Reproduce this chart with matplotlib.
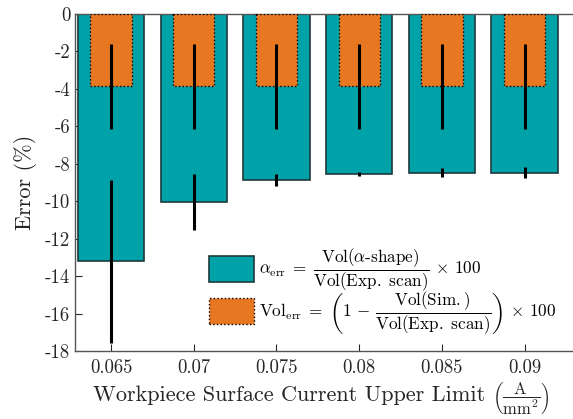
import numpy as np
import matplotlib
matplotlib.use("Agg")
import matplotlib.pyplot as plt

plt.rcParams['font.family'] = 'serif'
plt.rcParams['font.serif'] = ['cmr10']
plt.rcParams['mathtext.fontset'] = 'cm'
plt.rcParams['axes.unicode_minus'] = False

# data
currents = [0.065, 0.07, 0.075, 0.08, 0.085, 0.09]
alpha_err = [-13.2, -10.05, -8.85, -8.55, -8.48, -8.48]
alpha_std = [4.35, 1.5, 0.32, 0.12, 0.25, 0.3]
vol_err = [-3.87, -3.87, -3.87, -3.87, -3.87, -3.87]
vol_std = [2.25, 2.25, 2.25, 2.25, 2.25, 2.25]
xtick_labels = ['0.065', '0.07', '0.075', '0.08', '0.085', '0.09']
yticks = [0, -2, -4, -6, -8, -10, -12, -14, -16, -18]

teal = '#00A2AA'
orange = '#E87722'

fig = plt.figure(figsize=(5.73, 4.19), dpi=100)
ax = fig.add_axes([0.131, 0.162, 0.869, 0.805])

lab1 = (r'$\alpha_{\mathrm{err}}\;=\;\dfrac{\mathrm{Vol}(\alpha\text{-shape})}'
        r'{\mathrm{Vol(Exp.\ scan)}}\,\times\,100$')
lab2 = (r'$\mathrm{Vol}_{\mathrm{err}}\;=\;\left(1\,-\,\dfrac{\mathrm{Vol(Sim.)}}'
        r'{\mathrm{Vol(Exp.\ scan)}}\right)\,\times\,100$')

b1 = ax.bar(currents, alpha_err, width=0.004, color=teal, edgecolor='#1c3a3c',
            linewidth=1.2, label=lab1, zorder=2)
b2 = ax.bar(currents, vol_err, width=0.0025, color=orange, edgecolor='black',
            linewidth=1.0, linestyle=':', label=lab2, zorder=3)
ax.errorbar(currents, alpha_err, yerr=alpha_std, fmt='none', ecolor='black',
            elinewidth=2.2, capsize=0, zorder=4)
ax.errorbar(currents, vol_err, yerr=vol_std, fmt='none', ecolor='black',
            elinewidth=2.2, capsize=0, zorder=4)

ax.set_xlim(0.06282, 0.09293)
ax.set_ylim(-18, 0)
ax.set_xticks(currents, xtick_labels)
ax.set_yticks(yticks, [str(v) for v in yticks])
ax.tick_params(direction='in', length=5, labelsize=13.5, colors='#262626',
               width=0.8)
ax.tick_params(axis='x', pad=6)
for s in ['left', 'bottom', 'top']:
    ax.spines[s].set_color('#555555')
    ax.spines[s].set_linewidth(1.0)
ax.spines['right'].set_visible(False)

ax.set_xlabel('Workpiece Surface Current Upper Limit', fontsize=16,
              color='#262626', labelpad=6)
ax.xaxis.label.set_x(0.43)
ax.annotate(r'$\left(\dfrac{\mathrm{A}}{\mathrm{mm}^2}\right)$',
            xy=(1, 0.5), xycoords=ax.xaxis.label, xytext=(5, -1.5),
            textcoords='offset points', ha='left', va='center',
            fontsize=12, color='#262626')
ax.set_ylabel('Error (%)', fontsize=16, color='#262626', labelpad=6)

ax.legend(handles=[b1, b2], loc='upper left', bbox_to_anchor=(0.252, 0.333),
          frameon=False, fontsize=12.3, handlelength=2.6, handleheight=2.0,
          handletextpad=0.3, borderpad=0, labelspacing=-0.3)

fig.savefig('out.png', dpi=100)
